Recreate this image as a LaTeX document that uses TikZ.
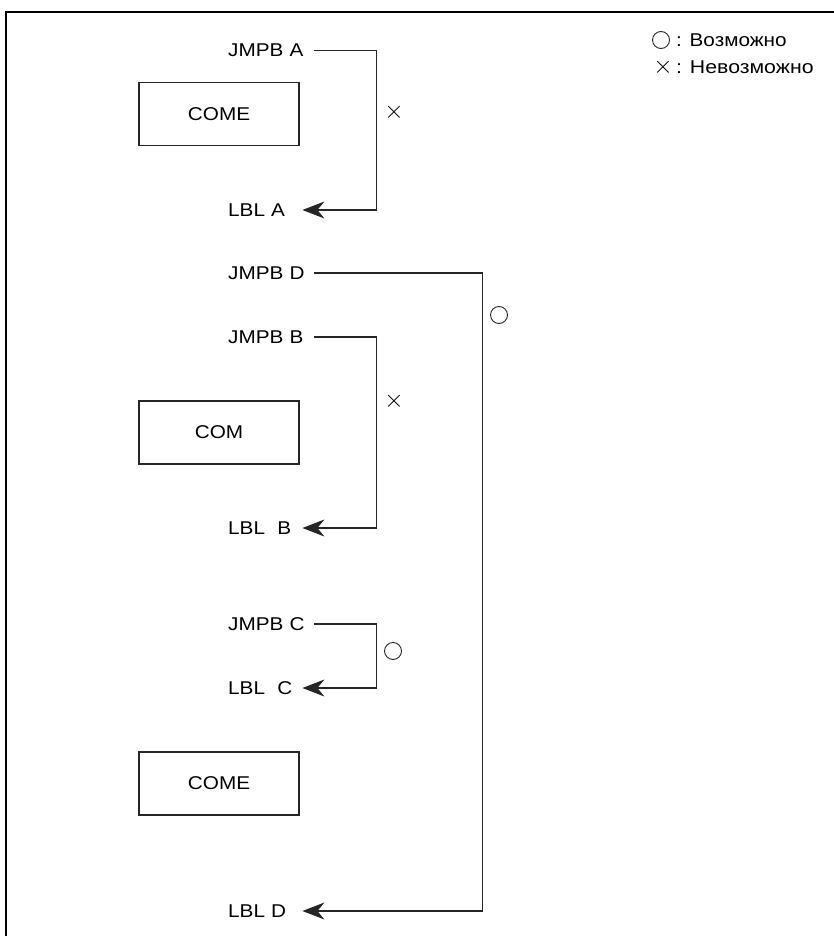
\documentclass[tikz,border=0pt]{standalone}
\usepackage{fontspec}
\setmainfont{Liberation Sans}[FakeStretch=1.12]
\usetikzlibrary{arrows.meta}
\begin{document}
\begin{tikzpicture}[x=1pt,y=-1pt,
  lbl/.style={anchor=west, inner sep=0pt, align=left, font=\fontsize{18.5}{20}\selectfont},
  jmp/.style={lbl, text width=86pt},
  tgt/.style={lbl, text width=74pt},
  conn/.style={line width=1.2pt, draw=black!85},
  arr/.style={conn, -{Stealth[length=22pt,width=17pt,inset=7pt]}},
  cbox/.style={draw=black!85, line width=1.4pt, minimum width=160pt, minimum height=63pt, inner sep=0pt, font=\fontsize{18.5}{20}\selectfont},
  yes/.style={circle, draw=black!85, line width=0.9pt, minimum size=17pt, inner sep=0pt},
  no/.style={inner sep=0pt, font=\fontsize{24}{24}\selectfont}
]
\useasboundingbox (0,0) rectangle (834,936);
\draw[line width=2.4pt] (834,12) -- (6,12) -- (6,936);

% instruction boxes
\node[cbox] (b1) at (219,114) {COME};
\node[cbox] (b2) at (219,432.5) {COM};
\node[cbox] (b3) at (219,783.5) {COME};

% jump and label texts
\node[jmp] (jA) at (228,50.5) {JMPB A};
\node[tgt] (lA) at (228,210) {LBL A};
\node[jmp] (jD) at (228,273) {JMPB D};
\node[jmp] (jB) at (228,337) {JMPB B};
\node[tgt] (lB) at (228,528) {LBL\ \ B};
\node[jmp] (jC) at (228,624) {JMPB C};
\node[tgt] (lC) at (228,688) {LBL\ \ C};
\node[tgt] (lD) at (228,911) {LBL D};

% connectors
\draw[arr] (jA.east) -- ++(62,0) |- (lA.east);
\draw[arr] (jD.east) -- ++(168,0) |- (lD.east);
\draw[arr] (jB.east) -- ++(62,0) |- (lB.east);
\draw[arr] (jC.east) -- ++(62,0) |- (lC.east);

% marks
\node[no] (xA) at (394,112) {$\times$};
\node[yes] (oD) at (499,315) {};
\node[no] (xB) at (394,401) {$\times$};
\node[yes] (oC) at (393,651) {};

% legend
\node[yes] (lg1) at (661,40) {};
\node[lbl] (lt1) at (676,40.3) {: Возможно};
\node[no] (lg2) at (663,67.5) {$\times$};
\node[lbl, font=\fontsize{18.5}{20}\addfontfeatures{FakeStretch=1.15}] (lt2) at (676,67.5) {: Невозможно};
\end{tikzpicture}
\end{document}
